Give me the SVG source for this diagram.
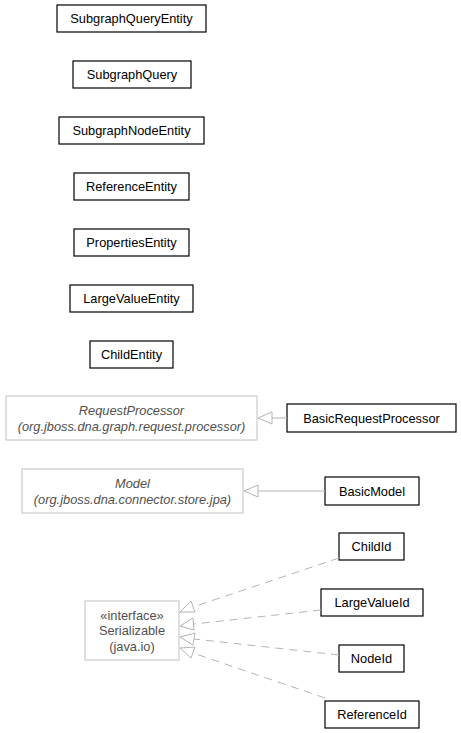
<svg xmlns="http://www.w3.org/2000/svg" width="461" height="733" viewBox="0 0 461 733">
<style>
.n rect{fill:#fff;stroke:#000;stroke-width:1.2}
.g rect{fill:#fff;stroke:#c0c0c0;stroke-width:1}
text{font-family:"Liberation Sans",Arial,sans-serif;font-size:12.8px;text-anchor:middle;fill:#000}
.g text{fill:#505050}
.i{font-style:italic}
.e{fill:none;stroke:#b4b4b4;stroke-width:1}
.d{stroke-dasharray:8,6}
.h{fill:#fff;stroke:#b4b4b4;stroke-width:1}
</style>
<rect width="461" height="733" fill="#fff"/>
<g id="SubgraphQueryEntity" class="n"><rect x="57" y="5" width="149" height="27"/><text x="131.5" y="23">SubgraphQueryEntity</text></g>
<g id="SubgraphQuery" class="n"><rect x="73" y="61" width="118" height="27"/><text x="132" y="79">SubgraphQuery</text></g>
<g id="SubgraphNodeEntity" class="n"><rect x="59" y="117" width="145" height="27"/><text x="131.5" y="135">SubgraphNodeEntity</text></g>
<g id="ReferenceEntity" class="n"><rect x="74" y="173" width="115" height="27"/><text x="131.5" y="191">ReferenceEntity</text></g>
<g id="PropertiesEntity" class="n"><rect x="74" y="229" width="115" height="27"/><text x="131.5" y="247">PropertiesEntity</text></g>
<g id="LargeValueEntity" class="n"><rect x="70" y="285" width="123" height="27"/><text x="131.5" y="303">LargeValueEntity</text></g>
<g id="ChildEntity" class="n"><rect x="90" y="341" width="83" height="27"/><text x="131.5" y="359">ChildEntity</text></g>
<g id="RequestProcessor" class="g"><rect x="6" y="396" width="251" height="44"/><text class="i" x="131.5" y="415">RequestProcessor</text><text class="i" x="131.5" y="431">(org.jboss.dna.graph.request.processor)</text></g>
<g id="BasicRequestProcessor" class="n"><rect x="287" y="404" width="169" height="28"/><text x="371.5" y="422.5">BasicRequestProcessor</text></g>
<g id="Model" class="g"><rect x="22" y="469" width="221" height="44"/><text class="i" x="132.5" y="488">Model</text><text class="i" x="132.5" y="504">(org.jboss.dna.connector.store.jpa)</text></g>
<g id="BasicModel" class="n"><rect x="325" y="477" width="94" height="28"/><text x="372" y="495.5">BasicModel</text></g>
<g id="Serializable" class="g"><rect x="85" y="601" width="94" height="59"/><text x="132" y="619.5">«interface»</text><text x="132" y="635">Serializable</text><text x="132" y="650.5">(java.io)</text></g>
<g id="ChildId" class="n"><rect x="339" y="533" width="65" height="27"/><text x="371.5" y="551">ChildId</text></g>
<g id="LargeValueId" class="n"><rect x="321" y="589" width="102" height="27"/><text x="372" y="607">LargeValueId</text></g>
<g id="NodeId" class="n"><rect x="339" y="645" width="65" height="27"/><text x="371.5" y="663">NodeId</text></g>
<g id="ReferenceId" class="n"><rect x="325" y="701" width="94" height="27"/><text x="372" y="719">ReferenceId</text></g>
<g id="connectors">
<path class="e" d="M287,418 L272,418"/>
<path class="h" d="M258,418 L272,412 L272,424 Z"/>
<path class="e" d="M325,491 L258,491"/>
<path class="h" d="M244,491 L258,485 L258,497 Z"/>
<path class="e d" d="M339,558 L193,607"/>
<path class="h" d="M180,612 L191,601 L195,612 Z"/>
<path class="e d" d="M321,610 L194,624"/>
<path class="h" d="M180,626 L193,618 L194,630 Z"/>
<path class="e d" d="M339,655 L194,639"/>
<path class="h" d="M180,637 L195,633 L193,645 Z"/>
<path class="e d" d="M325,698 L193,653"/>
<path class="h" d="M180,648 L195,647 L191,658 Z"/>
</g>
</svg>
